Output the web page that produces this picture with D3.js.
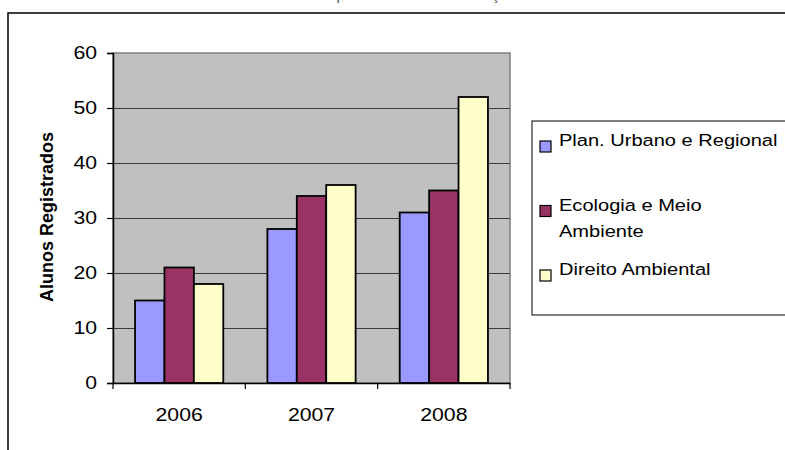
<!DOCTYPE html>
<html>
<head>
<meta charset="utf-8">
<script src="https://cdn.jsdelivr.net/npm/d3@7"></script>
<style>
  body { margin: 0; background: #fff; }
  text { font-family: Arial, "Liberation Sans", sans-serif; fill: #000; }
</style>
</head>
<body>
<script>
// data
const years = ['2006', '2007', '2008'];
const series = ['Plan. Urbano e Regional', 'Ecologia e Meio Ambiente', 'Direito Ambiental'];
const planUrbano = [15, 28, 31];
const ecologia = [21, 34, 35];
const direito = [18, 36, 52];
const yTicks = [0, 10, 20, 30, 40, 50, 60];
const colors = ['#9999FF', '#993366', '#FFFFCC'];

const values = [planUrbano, ecologia, direito];
const rows = years.map((yr, i) => ({ year: yr, vals: series.map((s, j) => ({ key: s, value: values[j][i] })) }));

const width = 785, height = 450;
const plot = { left: 113, right: 510, top: 53, bottom: 383 };
const SX = 1.18; // the source is a bit stretched sideways

const svg = d3.select('body').append('svg')
	.attr('width', width)
	.attr('height', height);

// title, cut off at the top of the picture in the source
svg.append('text')
	.attr('transform', `translate(400,0) scale(${SX},1)`)
	.attr('text-anchor', 'middle')
	.style('font-size', '13px')
	.style('fill', '#555')
	.text('Número de Alunos por Área de Concentração - Mestrado');

// chart area border
svg.append('rect')
	.attr('x', 8).attr('y', 13)
	.attr('width', 820).attr('height', 500)
	.attr('fill', 'none')
	.attr('stroke', '#000')
	.attr('stroke-width', 1.5);

const x = d3.scaleBand()
	.domain(years)
	.range([plot.left, plot.right]);

const x1 = d3.scaleBand()
	.domain(series)
	.range([0, x.bandwidth()])
	.paddingOuter(0.75);

const y = d3.scaleLinear()
	.domain([0, 60])
	.range([plot.bottom, plot.top]);

// plot area
svg.append('rect')
	.attr('x', plot.left).attr('y', plot.top)
	.attr('width', plot.right - plot.left).attr('height', plot.bottom - plot.top)
	.attr('fill', '#C0C0C0')
	.attr('stroke', '#808080')
	.attr('stroke-width', 1.5);

// gridlines
svg.append('g')
	.selectAll('line')
	.data(yTicks.filter(d => d > 0 && d < 60))
	.join('line')
	.attr('x1', plot.left).attr('x2', plot.right)
	.attr('y1', d => Math.round(y(d)) + 0.5).attr('y2', d => Math.round(y(d)) + 0.5)
	.attr('stroke', '#3a3a3a')
	.attr('stroke-width', 1);

// bars
const group = svg.append('g')
	.selectAll('g')
	.data(rows)
	.join('g')
	.attr('transform', d => `translate(${x(d.year)},0)`);

group.selectAll('rect')
	.data(d => d.vals)
	.join('rect')
	.attr('x', d => x1(d.key))
	.attr('y', d => y(d.value))
	.attr('width', x1.bandwidth())
	.attr('height', d => y(0) - y(d.value))
	.attr('fill', (d, i) => colors[i])
	.attr('stroke', '#000')
	.attr('stroke-width', 1.8);

// axes
const yAxis = svg.append('g')
	.attr('transform', `translate(${plot.left},0)`)
	.call(d3.axisLeft(y).tickValues(yTicks).tickSize(6).tickPadding(0).tickFormat(d3.format('d')));
yAxis.select('.domain').attr('stroke', '#000').attr('stroke-width', 1.5);
yAxis.selectAll('.tick line').attr('stroke', '#000').attr('stroke-width', 1.2);
yAxis.selectAll('.tick text')
	.attr('x', -16 / SX)
	.attr('dy', '0.33em')
	.attr('transform', `scale(${SX},1)`)
	.style('font-size', '18px')
	.style('font-family', 'Arial, "Liberation Sans", sans-serif')
	.attr('fill', '#000');

const xAxis = svg.append('g')
	.attr('transform', `translate(0,${plot.bottom})`)
	.call(d3.axisBottom(x).tickSize(0).tickPadding(0));
xAxis.select('.domain').attr('stroke', '#000').attr('stroke-width', 1.5);
xAxis.selectAll('.tick text')
	.attr('y', 38)
	.attr('dy', 0)
	.attr('transform', `scale(${SX},1)`)
	.style('font-size', '18px')
	.style('font-family', 'Arial, "Liberation Sans", sans-serif')
	.attr('fill', '#000');

// category boundary ticks
xAxis.append('g')
	.selectAll('line')
	.data(years.map(d => x(d)).concat([plot.right]))
	.join('line')
	.attr('x1', d => d).attr('x2', d => d)
	.attr('y1', 0).attr('y2', 6)
	.attr('stroke', '#000')
	.attr('stroke-width', 1.2);

// y axis title
svg.append('text')
	.attr('transform', `translate(53,${(plot.top + plot.bottom) / 2 - 1}) rotate(-90)`)
	.attr('text-anchor', 'middle')
	.style('font-size', '18px')
	.style('font-weight', 'bold')
	.text('Alunos Registrados');

// legend
const legend = svg.append('g');
legend.append('rect')
	.attr('x', 532).attr('y', 121)
	.attr('width', 300).attr('height', 194)
	.attr('fill', '#fff')
	.attr('stroke', '#000')
	.attr('stroke-width', 1);

const legendMax = 226;
const entry = legend.selectAll('g.entry')
	.data(series)
	.join('g')
	.attr('class', 'entry')
	.attr('transform', (d, i) => `translate(540,${146 + i * 64.5})`);

entry.append('rect')
	.attr('x', 0).attr('y', -5)
	.attr('width', 11).attr('height', 11)
	.attr('fill', (d, i) => colors[i])
	.attr('stroke', '#000')
	.attr('stroke-width', 1.2);

entry.each(function(d) {
	const g = d3.select(this);
	const words = d.split(' ');
	const lines = [];
	let line = [];
	const probe = g.append('text').style('font-size', '17px');
	words.forEach(w => {
		probe.text(line.concat(w).join(' '));
		if (line.length && probe.node().getComputedTextLength() * SX > legendMax) {
			lines.push(line.join(' '));
			line = [w];
		} else {
			line.push(w);
		}
	});
	lines.push(line.join(' '));
	probe.remove();
	lines.forEach((t, k) => {
		g.append('text')
			.attr('transform', `translate(19,${k * 26}) scale(${SX},1)`)
			.style('font-size', '17px')
			.text(t);
	});
});
</script>
</body>
</html>
